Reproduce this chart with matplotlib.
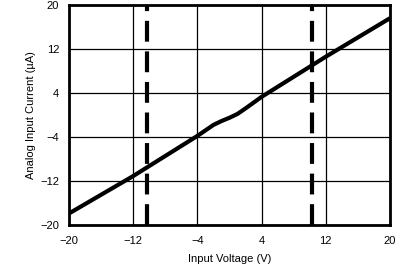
import matplotlib
matplotlib.use("Agg")
import matplotlib.pyplot as plt

plt.rcParams['font.family'] = ['Liberation Sans', 'DejaVu Sans']
plt.rcParams['lines.scale_dashes'] = False

voltage = [-20, -12, -4, -2, -1, 0, 1, 2, 4, 12, 20]
current = [-17.9, -11.1, -3.8, -1.8, -1.1, -0.5, 0.2, 1.2, 3.3, 10.6, 17.6]
limits = [-10.3, 10.3]
xticks = [-20, -12, -4, 4, 12, 20]
yticks = [-20, -12, -4, 4, 12, 20]

fig = plt.figure(figsize=(4.06, 2.68), dpi=100)
ax = fig.add_axes([69/406, 1-225/268, 321/406, 220/268])

ax.plot(voltage, current, color='black', lw=3, solid_capstyle='butt', zorder=3)
for v in limits:
    ax.axvline(v, color='black', lw=3, dashes=(15, 7), zorder=3)

ax.set_xlim(-20, 20)
ax.set_ylim(-20, 20)
ax.set_xticks(xticks)
ax.set_yticks(yticks)
ax.grid(True, color='black', lw=0.9)
ax.tick_params(axis='x', length=0, labelsize=8, pad=8)
ax.tick_params(axis='y', length=0, labelsize=8, pad=7)
for s in ax.spines.values():
    s.set_linewidth(2)
ax.set_xlabel('Input Voltage (V)', fontsize=8, labelpad=6)
ax.set_ylabel('Analog Input Current (µA)', fontsize=8, labelpad=3)

fig.savefig('out.png', dpi=100)
